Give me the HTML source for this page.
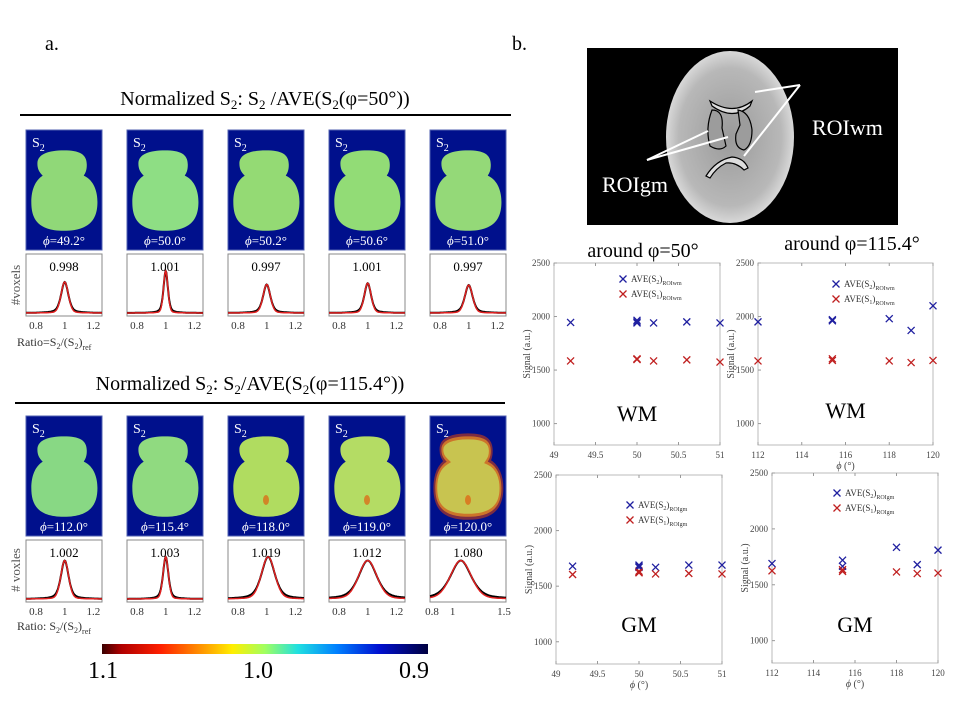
<!DOCTYPE html>
<html><head><meta charset="utf-8"><style>
html,body{margin:0;padding:0;background:#fff;overflow:hidden;}
svg{display:block;font-family:"Liberation Serif",serif;}
</style></head><body>
<svg id="fig" width="960" height="720" viewBox="0 0 960 720">
<defs>
<linearGradient id="cbar" x1="0" x2="1" y1="0" y2="0">
<stop offset="0" stop-color="#3a0000"/><stop offset="0.06" stop-color="#b00000"/><stop offset="0.18" stop-color="#ff2000"/><stop offset="0.3" stop-color="#ff9000"/><stop offset="0.4" stop-color="#ffee00"/><stop offset="0.5" stop-color="#a0ff60"/><stop offset="0.6" stop-color="#20e0e0"/><stop offset="0.72" stop-color="#0080ff"/><stop offset="0.85" stop-color="#0010d0"/><stop offset="1" stop-color="#000040"/>
</linearGradient>
<radialGradient id="mri" cx="0.5" cy="0.5" r="0.5"><stop offset="0" stop-color="#9a9a9a"/><stop offset="0.8" stop-color="#b8b8b8"/><stop offset="1" stop-color="#d8d8d8"/></radialGradient>
</defs>
<text x="45" y="50" font-size="20">a.</text>
<text x="512" y="50" font-size="20">b.</text>
<text x="265" y="105" font-size="20" text-anchor="middle">Normalized S<tspan font-size="13" dy="4">2</tspan><tspan dy="-4">: S</tspan><tspan font-size="13" dy="4">2</tspan><tspan dy="-4"> /AVE(S</tspan><tspan font-size="13" dy="4">2</tspan><tspan dy="-4">(φ=50°))</tspan></text>
<line x1="20" y1="115" x2="511" y2="115" stroke="#000" stroke-width="2"/>
<text x="250" y="390" font-size="20" text-anchor="middle">Normalized S<tspan font-size="13" dy="4">2</tspan><tspan dy="-4">: S</tspan><tspan font-size="13" dy="4">2</tspan><tspan dy="-4">/AVE(S</tspan><tspan font-size="13" dy="4">2</tspan><tspan dy="-4">(φ=115.4°))</tspan></text>
<line x1="15" y1="403" x2="505" y2="403" stroke="#000" stroke-width="2"/>
<g id="panelsA"></g>
<text x="20" y="285" font-size="13" fill="#555" transform="rotate(-90 20 285)" text-anchor="middle">#voxels</text>
<text x="20" y="570" font-size="13" fill="#555" transform="rotate(-90 20 570)" text-anchor="middle"># voxles</text>
<text x="17" y="346" font-size="12" fill="#333">Ratio=S<tspan font-size="8" dy="3">2</tspan><tspan dy="-3">/(S</tspan><tspan font-size="8" dy="3">2</tspan><tspan dy="-3">)</tspan><tspan font-size="8" dy="4">ref</tspan></text>
<text x="17" y="630" font-size="12" fill="#333">Ratio: S<tspan font-size="8" dy="3">2</tspan><tspan dy="-3">/(S</tspan><tspan font-size="8" dy="3">2</tspan><tspan dy="-3">)</tspan><tspan font-size="8" dy="4">ref</tspan></text>
<rect x="102" y="644" width="326" height="10" fill="url(#cbar)"/>
<text x="103" y="678" font-size="24" text-anchor="middle">1.1</text>
<text x="258" y="678" font-size="24" text-anchor="middle">1.0</text>
<text x="414" y="678" font-size="24" text-anchor="middle">0.9</text>
<g>
<rect x="587" y="48" width="311" height="177" fill="#000"/>
<ellipse cx="730" cy="137" rx="64" ry="86" fill="url(#mri)"/>
<path d="M710,101 Q733,116 752,101 L750,106 Q733,121 712,106Z" fill="#ddd" stroke="#000" stroke-width="1.2"/>
<path d="M712,110 Q724,110 722,128 L726,146 Q720,152 710,146 Q705,128 712,110Z" fill="#9c9c9c" stroke="#000" stroke-width="1.2"/>
<path d="M738,110 Q750,112 752,130 Q752,146 744,150 Q734,148 736,134 L740,125Z" fill="#9c9c9c" stroke="#000" stroke-width="1.2"/>
<path d="M706,176 Q716,160 732,157 Q744,158 748,168 L744,170 Q736,162 726,163 Q716,168 710,178Z" fill="#ddd" stroke="#000" stroke-width="1.2"/>
<g stroke="#fff" stroke-width="2" fill="#fff">
<line x1="800" y1="85" x2="755" y2="92"/><line x1="800" y1="85" x2="744" y2="156"/>
<line x1="647" y1="160" x2="708" y2="131"/><line x1="647" y1="160" x2="728" y2="137"/>
</g>
<text x="812" y="135" font-size="22" fill="#fff">ROIwm</text>
<text x="602" y="192" font-size="22" fill="#fff">ROIgm</text>
</g>
<g id="scatters"></g>
<text x="643" y="257" font-size="20" text-anchor="middle">around φ=50°</text>
<text x="852" y="250" font-size="20" text-anchor="middle">around φ=115.4°</text>
</svg>
<script>
// ---------- Panel a data ----------
const topAngles=["49.2","50.0","50.2","50.6","51.0"];
const topMeans=["0.998","1.001","0.997","1.001","0.997"];
const topPeakCenter=[1.0,1.0,1.0,1.0,1.0];
const topPeakWidth=[0.03,0.018,0.03,0.028,0.032];
const topPeakHeight=[0.5,0.68,0.46,0.48,0.45];
const botAngles=["112.0","115.4","118.0","119.0","120.0"];
const botMeans=["1.002","1.003","1.019","1.012","1.080"];
const botPeakCenter=[1.0,1.0,1.01,1.0,1.08];
const botPeakWidth=[0.032,0.022,0.055,0.075,0.12];
const botPeakHeight=[0.62,0.68,0.68,0.62,0.62];
const histTicksStd=["0.8","1","1.2"];
const histTicksLast=["0.8","1","1.5"];
const topBrainColor=["#90d878","#8ede84","#94da74","#92dc76","#94d978"];
const botBrainColor=["#88d884","#90da80","#b0dc60","#b4dc64","#c8c450"];

const NS="http://www.w3.org/2000/svg";
function mk(tag,attrs,parent){const e=document.createElementNS(NS,tag);for(const k in attrs)e.setAttribute(k,attrs[k]);if(parent)parent.appendChild(e);return e;}
const brainPath="M0.5,0.17 C0.7,0.17 0.8,0.2 0.8,0.29 C0.8,0.34 0.78,0.36 0.76,0.38 C0.9,0.42 0.94,0.52 0.94,0.6 C0.94,0.73 0.86,0.84 0.5,0.84 C0.14,0.84 0.07,0.73 0.07,0.6 C0.07,0.5 0.12,0.42 0.22,0.38 C0.17,0.35 0.15,0.32 0.15,0.28 C0.15,0.2 0.3,0.17 0.5,0.17 Z";
const panelX=[26,127,228,329,430];
const panelW=76;
const gA=document.getElementById('panelsA');

function drawRow(rowY,histY,angles,means,pc,pw,ph,colors,isBottom){
  for(let i=0;i<5;i++){
    const x=panelX[i];
    const g=mk('g',{},gA);
    
    
    mk('rect',{x:x,y:rowY,width:panelW,height:120,fill:'#00108c',stroke:'#5060b0','stroke-width':1},g);
    mk('path',{d:brainPath,fill:colors[i],transform:`translate(${x},${rowY}) scale(${panelW},120)`},g);
    if(isBottom&&i>=2){
      mk('ellipse',{cx:x+panelW*0.5,cy:rowY+120*0.7,rx:3,ry:5,fill:'#e06010',opacity:0.7},g);
      if(i===4){mk('path',{d:brainPath,fill:'none',stroke:'#d04010','stroke-width':0.05,opacity:0.6,transform:`translate(${x},${rowY}) scale(${panelW},120)`},g);}
    }
    const s=mk('text',{x:x+6,y:rowY+17,'font-size':14,fill:'#fff'},g);s.innerHTML='S<tspan font-size="10" dy="4">2</tspan>';
    const t=mk('text',{x:x+panelW/2,y:rowY+115,'font-size':13,fill:'#fff','text-anchor':'middle'},g);t.innerHTML='<tspan font-style="italic">ϕ</tspan>='+angles[i]+'°';
    const h=mk('g',{},gA);
    
    
    const hh=62;
    mk('rect',{x:x,y:histY,width:panelW,height:hh,fill:'#fff',stroke:'#888','stroke-width':1},h);
    const last=isBottom&&i===4;
    const d0=last?0.78:0.73,d1=last?1.52:1.26;
    const sx=v=>x+(v-d0)/(d1-d0)*panelW;
    const base=histY+hh-3;
    const fn=(v,w,k)=>{const z=(v-pc[i])/w;return k*1/(1+z*z)+(1-k)*Math.exp(-z*z/2*1.4);};
    let pr='',pb='';
    for(let j=0;j<=120;j++){
      const v=d0+(d1-d0)*j/120;
      const yb=base-ph[i]*hh*fn(v,pw[i],0.5);
      const yr=base-ph[i]*hh*fn(v,pw[i],0.2);
      pb+=(j?'L':'M')+sx(v).toFixed(1)+','+yb.toFixed(1);
      pr+=(j?'L':'M')+sx(v).toFixed(1)+','+yr.toFixed(1);
    }
    mk('path',{d:pb,fill:'none',stroke:'#000','stroke-width':2},h);
    mk('path',{d:pr,fill:'none',stroke:'#e02020','stroke-width':1.5},h);
    const m=mk('text',{x:x+panelW/2,y:histY+17,'font-size':13,'text-anchor':'middle'},h);m.textContent=means[i];
    const ticks=last?histTicksLast:histTicksStd;
    ticks.forEach(tk=>{const tt=mk('text',{x:sx(parseFloat(tk)),y:histY+hh+13,'font-size':11,fill:'#333','text-anchor':'middle'},h);tt.textContent=tk;});
  }
}
drawRow(130,254,topAngles,topMeans,topPeakCenter,topPeakWidth,topPeakHeight,topBrainColor,false);
drawRow(416,540,botAngles,botMeans,botPeakCenter,botPeakWidth,botPeakHeight,botBrainColor,true);

// ---------- Panel b scatter data ----------
const wm50Phi=[49.2,50,50,50,50.2,50.6,51];
const wm50S2=[1945,1965,1940,1950,1940,1950,1940];
const wm50S1=[1585,1600,1605,1600,1585,1595,1575];
const wm115Phi=[112,115.4,115.4,118,119,120];
const wm115S2=[1950,1960,1970,1980,1870,2100];
const wm115S1=[1585,1590,1605,1585,1570,1590];
const gm50Phi=[49.2,50,50,50,50.2,50.6,51];
const gm50S2=[1680,1690,1670,1680,1670,1690,1690];
const gm50S1=[1605,1625,1635,1620,1610,1615,1610];
const gm115Phi=[112,115.4,115.4,118,119,120];
const gm115S2=[1690,1720,1665,1835,1680,1810];
const gm115S1=[1625,1620,1635,1615,1600,1605];
const xTicks50=["49","49.5","50","50.5","51"];
const xTicks115=["112","114","116","118","120"];
const yTicks=["1000","1500","2000","2500"];

const gS=document.getElementById('scatters');
function scatter(name,box,xd,xt,phi,s2,s1,region,legX,legY,roi,showX){
  const g=mk('g',{},gS);
  
  
  const sx=v=>box.x0+(v-xd[0])/(xd[1]-xd[0])*(box.x1-box.x0);
  const sy=v=>box.y1-(v-800)/(2500-800)*(box.y1-box.y0);
  mk('rect',{x:box.x0,y:box.y0,width:box.x1-box.x0,height:box.y1-box.y0,fill:'#fff',stroke:'#bbb','stroke-width':1},g);
  xt.forEach(t=>{const v=parseFloat(t);mk('line',{x1:sx(v),x2:sx(v),y1:box.y1,y2:box.y1-3,stroke:'#999'},g);mk('line',{x1:sx(v),x2:sx(v),y1:box.y0,y2:box.y0+3,stroke:'#999'},g);const e=mk('text',{x:sx(v),y:box.y1+13,'font-size':9,fill:'#444','text-anchor':'middle'},g);e.textContent=t;});
  yTicks.forEach(t=>{const v=parseFloat(t);mk('line',{x1:box.x0,x2:box.x0+3,y1:sy(v),y2:sy(v),stroke:'#999'},g);const e=mk('text',{x:box.x0-4,y:sy(v)+3,'font-size':9,fill:'#444','text-anchor':'end'},g);e.textContent=t;});
  const yl=mk('text',{x:box.x0-24,y:(box.y0+box.y1)/2,'font-size':10,fill:'#444','text-anchor':'middle',transform:`rotate(-90 ${box.x0-24} ${(box.y0+box.y1)/2})`},g);yl.textContent='Signal (a.u.)';
  if(showX){const xl=mk('text',{x:(box.x0+box.x1)/2,y:box.y1+24,'font-size':10,fill:'#444','text-anchor':'middle'},g);xl.innerHTML='<tspan font-style="italic">ϕ</tspan> (°)';}
  const cross=(cx,cy,col)=>{const p=mk('path',{d:`M${cx-3.5},${cy-3.5}L${cx+3.5},${cy+3.5}M${cx-3.5},${cy+3.5}L${cx+3.5},${cy-3.5}`,stroke:col,'stroke-width':1.3},g);return p;};
  phi.forEach((p,i)=>{
    const a=cross(sx(p),sy(s2[i]),'#2020a0');
    
    
    const b=cross(sx(p),sy(s1[i]),'#c02020');
    
    
  });
  cross(legX,legY,'#2020a0');cross(legX,legY+15,'#c02020');
  const l1=mk('text',{x:legX+8,y:legY+3,'font-size':9,fill:'#333'},g);l1.innerHTML='AVE(S<tspan font-size="6" dy="2">2</tspan><tspan dy="-2">)</tspan><tspan font-size="6" dy="3">'+roi+'</tspan>';
  const l2=mk('text',{x:legX+8,y:legY+18,'font-size':9,fill:'#333'},g);l2.innerHTML='AVE(S<tspan font-size="6" dy="2">1</tspan><tspan dy="-2">)</tspan><tspan font-size="6" dy="3">'+roi+'</tspan>';
  const r=mk('text',{x:(box.x0+box.x1)/2,y:region.y,'font-size':22,'text-anchor':'middle'},g);r.textContent=region.t;
}
scatter('scatter-wm-50',{x0:554,x1:720,y0:263,y1:445},[49,51],xTicks50,wm50Phi,wm50S2,wm50S1,{t:'WM',y:421},623,279,'ROIwm',false);
scatter('scatter-wm-115',{x0:758,x1:933,y0:263,y1:445},[112,120],xTicks115,wm115Phi,wm115S2,wm115S1,{t:'WM',y:418},836,284,'ROIwm',true);
scatter('scatter-gm-50',{x0:556,x1:722,y0:475,y1:664},[49,51],xTicks50,gm50Phi,gm50S2,gm50S1,{t:'GM',y:632},630,505,'ROIgm',true);
scatter('scatter-gm-115',{x0:772,x1:938,y0:473,y1:663},[112,120],xTicks115,gm115Phi,gm115S2,gm115S1,{t:'GM',y:632},837,493,'ROIgm',true);
</script>
</body></html>
